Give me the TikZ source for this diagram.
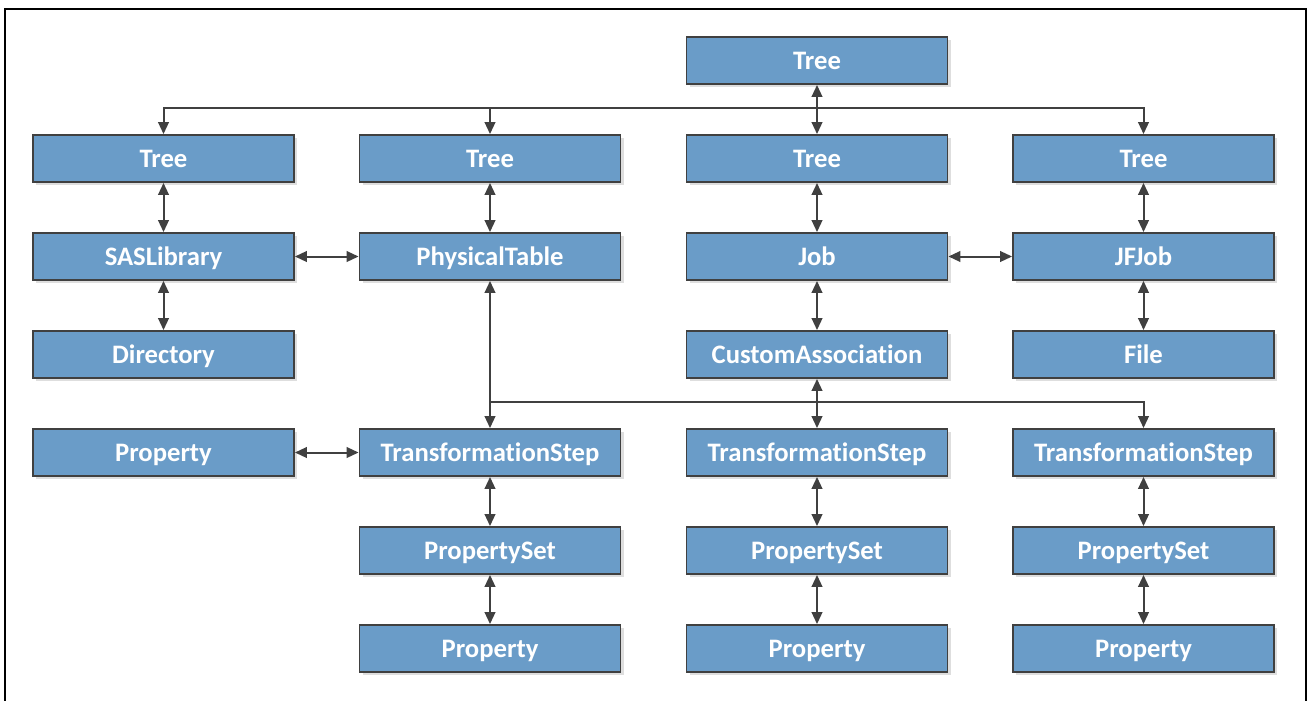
\documentclass[tikz,border=0pt]{standalone}
\usepackage{fontspec}
\setmainfont{Carlito}[Ligatures={NoCommon}]
\usetikzlibrary{arrows.meta,shadows}
\definecolor{boxfill}{RGB}{106,156,200}
\definecolor{boxline}{RGB}{64,64,64}
\definecolor{conn}{RGB}{64,64,64}
\tikzset{
  entity/.style={draw=boxline, line width=1.4pt, fill=boxfill, minimum width=195.75pt, minimum height=35.25pt, inner sep=0pt,
    text height=15pt, text depth=2.1pt,
    font=\fontsize{20}{24}\selectfont\bfseries, text=white,
    drop shadow={shadow xshift=2.4pt, shadow yshift=-2.4pt, fill=black!13, opacity=1}},
  link/.style={draw=conn, line width=1.5pt, {Triangle[length=9pt,width=8pt]}-{Triangle[length=9pt,width=8pt]}},
  onelink/.style={draw=conn, line width=1.5pt, -{Triangle[length=9pt,width=8pt]}},
  plain/.style={draw=conn, line width=1.5pt}
}
\begin{document}
\begin{tikzpicture}[x=0.75pt,y=-0.75pt]
\useasboundingbox (0,0) rectangle (1308,700);
\draw[line width=1.6pt] (5,710) -- (5,9) -- (1306,9) -- (1306,710);
% columns 163.5, 490, 817, 1143.5 ; rows 60.5 + 98k
\node[entity] (t0) at (817,60.5) {Tree};
\node[entity] (t1) at (163.5,158.5) {Tree};
\node[entity] (t2) at (490,158.5) {Tree};
\node[entity] (t3) at (817,158.5) {Tree};
\node[entity] (t4) at (1143.5,158.5) {Tree};
\node[entity] (sas) at (163.5,256.5) {SASLibrary};
\node[entity] (phys) at (490,256.5) {PhysicalTable};
\node[entity] (job) at (817,256.5) {Job};
\node[entity] (jf) at (1143.5,256.5) {JFJob};
\node[entity] (dir) at (163.5,354.5) {Directory};
\node[entity] (ca) at (817,354.5) {CustomAssociation};
\node[entity] (file) at (1143.5,354.5) {File};
\node[entity] (prop1) at (163.5,452.5) {Property};
\node[entity] (ts2) at (490,452.5) {TransformationStep};
\node[entity] (ts3) at (817,452.5) {TransformationStep};
\node[entity] (ts4) at (1143.5,452.5) {TransformationStep};
\node[entity] (ps2) at (490,550.5) {PropertySet};
\node[entity] (ps3) at (817,550.5) {PropertySet};
\node[entity] (ps4) at (1143.5,550.5) {PropertySet};
\node[entity] (p2) at (490,648.5) {Property};
\node[entity] (p3) at (817,648.5) {Property};
\node[entity] (p4) at (1143.5,648.5) {Property};
\coordinate (b1) at (817,107.5);
\coordinate (b2) at (817,401.5);
% top bus
\draw[link] (t0) -- (t3);
\draw[onelink] (b1) -| (t1);
\draw[onelink] (b1) -| (t2);
\draw[onelink] (b1) -| (t4);
% column links
\draw[link] (t1) -- (sas);
\draw[link] (sas) -- (dir);
\draw[link] (t2) -- (phys);
\draw[link] (t3) -- (job);
\draw[link] (job) -- (ca);
\draw[link] (t4) -- (jf);
\draw[link] (jf) -- (file);
\draw[link] (sas) -- (phys);
\draw[link] (job) -- (jf);
% lower bus
\draw[link] (phys) -- (ts2);
\draw[link] (ca) -- (ts3);
\draw[plain] (b2) -- (phys.south |- b2);
\draw[onelink] (b2) -| (ts4);
\draw[link] (prop1) -- (ts2);
\draw[link] (ts2) -- (ps2);
\draw[link] (ps2) -- (p2);
\draw[link] (ts3) -- (ps3);
\draw[link] (ps3) -- (p3);
\draw[link] (ts4) -- (ps4);
\draw[link] (ps4) -- (p4);
\end{tikzpicture}
\end{document}
